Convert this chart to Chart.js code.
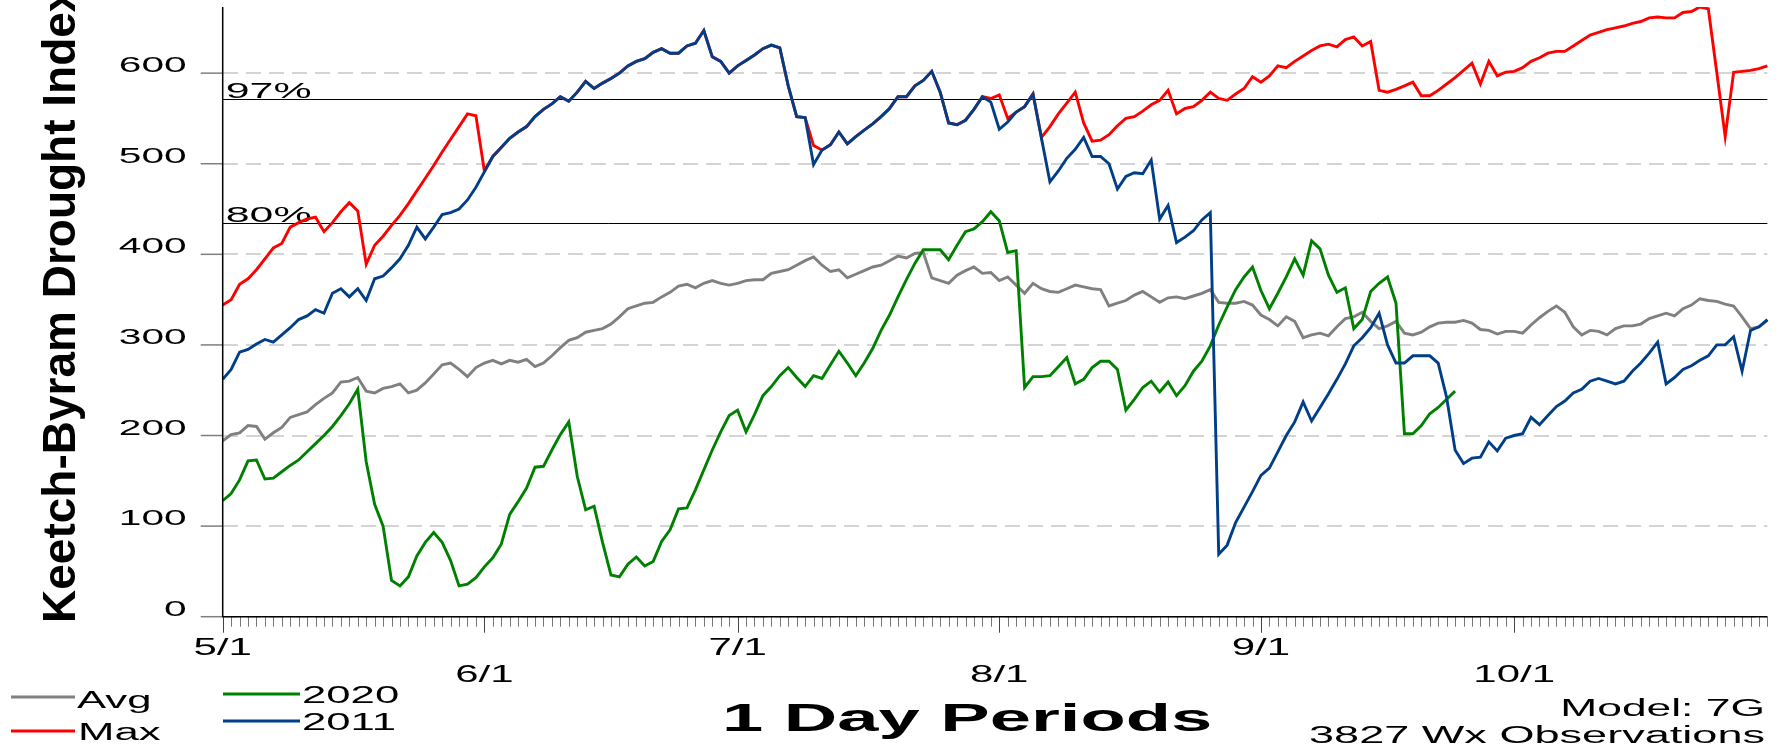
<!DOCTYPE html>
<html><head><meta charset="utf-8">
<script src="https://cdn.jsdelivr.net/npm/chart.js@4.4.1/dist/chart.umd.min.js"></script>
<style>html,body{margin:0;padding:0;background:#fff;overflow:hidden}#wrap{width:1783px;height:747px;position:relative}</style>
</head><body><div id="wrap"><canvas id="c" width="1783" height="747"></canvas></div>
<script>
// ---- data ----
const startMonth = 5, startDay = 1, dayCount = 184;
const monthTickLabels = ['5/1','6/1','7/1','8/1','9/1','10/1'];
const monthTickIndex = [0,31,61,92,123,153];
const yTickValues = [0,100,200,300,400,500,600];
const pctLabels = ['97%','80%'];
const pctValues = [571,435];
const seriesNames = ['Avg','Max','2020','2011'];

const avg = [194,201,203,211,210,196,203,209,220,223,226,234,241,247,259,260,264,249,247,252,254,257,247,250,258,268,278,280,273,265,275,280,
283,279,283,281,284,276,280,288,297,305,308,314,316,318,323,331,340,343,346,347,353,358,365,367,363,368,371,368,366,368,371,
372,372,379,381,383,388,393,397,388,381,383,374,378,382,386,388,393,398,396,401,402,
374,371,368,377,382,386,379,380,371,375,
366,357,368,362,359,358,362,366,364,362,361,343,346,349,355,359,353,347,352,353,351,354,357,361,347,346,346,348,
344,333,328,321,331,326,308,311,313,310,320,329,331,336,326,318,321,326,313,311,314,320,324,325,325,327,324,317,316,312,315,
315,313,322,330,337,343,336,320,311,316,315,311,318,321,321,323,329,332,335,332,340,344,351,349,348,345,343,331,318,320,327];

const max = [344,350,367,373,383,395,407,412,430,435,439,441,425,435,447,457,448,389,410,420,432,443,456,470,484,498,513,527,541,555,553,492,
508,518,528,535,541,552,560,566,574,569,579,591,583,589,594,600,608,613,616,623,627,622,622,630,633,647,618,613,600,608,614,620,627,631,628,586,552,551,
520,515,521,535,522,530,537,544,552,561,574,574,586,592,602,579,545,543,548,560,574,
572,576,550,557,563,577,
529,541,555,567,579,545,525,526,532,542,550,552,558,565,570,581,555,561,563,570,579,572,570,577,583,596,590,
597,608,606,613,619,625,630,632,629,637,640,630,635,581,579,582,586,590,575,575,581,588,595,603,611,588,613,597,601,
602,606,613,617,622,624,624,630,636,642,645,648,650,652,655,657,661,662,661,661,667,668,673,671,601,530,601,602,603,605,608];

const y2020 = [128,136,151,172,173,152,153,160,167,173,182,191,200,210,222,235,251,171,124,100,40,34,44,67,82,93,82,62,34,36,43,55,
65,80,113,127,142,165,166,184,201,215,155,118,122,82,46,44,58,66,56,61,83,96,119,120,140,162,184,204,222,228,204,
223,244,254,266,275,264,254,266,263,278,293,280,266,280,296,316,333,353,372,390,405,405,405,394,410,425,428,436,447,437,402,
404,253,265,265,266,276,286,257,262,275,282,282,273,228,240,253,260,248,259,244,255,271,282,299,322,342,361,375,386,360,
340,357,375,395,377,415,406,377,358,363,318,328,359,368,375,346,202,202,211,224,231,240,249];

const y2011 = [262,273,292,295,301,306,303,311,319,328,332,339,335,357,362,353,362,349,373,376,385,395,410,430,417,430,444,446,450,460,474,491,
508,518,528,535,541,552,560,566,574,569,579,591,583,589,594,600,608,613,616,623,627,622,622,630,633,647,618,613,600,608,614,620,627,631,628,586,552,551,
499,515,521,535,522,530,537,544,552,561,574,574,586,592,602,579,545,543,548,560,574,568,538,546,
557,563,577,528,480,492,506,516,529,508,508,500,472,486,490,489,504,439,454,413,419,426,438,446,69,79,104,121,138,156,
164,182,200,215,237,216,231,246,262,279,299,308,319,335,300,280,280,288,288,288,280,242,184,169,175,176,193,183,197,
200,202,220,212,222,232,238,247,251,260,263,260,257,260,271,280,291,303,257,264,273,277,283,288,300,300,309,271,316,320,328];

// categories (dates) from the start date
const labels = [];
for (let i = 0; i < dayCount; i++) {
  const d = new Date(2020, startMonth - 1, startDay + i);
  labels.push((d.getMonth() + 1) + '/' + d.getDate());
}

const colors = { Avg: '#808080', Max: '#ff0000', '2020': '#008000', '2011': '#003f87' };
const FONT = '"Liberation Sans", Arial, sans-serif';

function sText(ctx, txt, x, y, size, sx, align, bold) {
  ctx.save();
  ctx.font = (bold ? 'bold ' : '') + size + 'px ' + FONT;
  ctx.fillStyle = '#000';
  ctx.textBaseline = 'alphabetic';
  ctx.textAlign = align || 'left';
  ctx.translate(x, y);
  ctx.scale(sx, 1);
  ctx.fillText(txt, 0, 0);
  ctx.restore();
}

const decor = {
  id: 'decor',
  beforeDatasetsDraw(chart) {
    const ctx = chart.ctx, ys = chart.scales.y, a = chart.chartArea;
    ctx.save();
    ctx.strokeStyle = '#000'; ctx.lineWidth = 1;
    pctValues.forEach((v, k) => {
      const y = Math.round(ys.getPixelForValue(v)) + 0.5;
      ctx.beginPath(); ctx.moveTo(a.left, y); ctx.lineTo(a.right, y); ctx.stroke();
      sText(ctx, pctLabels[k], a.left + 3, y - 1.5, 22, 1.95, 'left');
    });
    ctx.restore();
  },
  afterDraw(chart) {
    const ctx = chart.ctx, xs = chart.scales.x, ys = chart.scales.y, a = chart.chartArea;
    ctx.save();
    // y ticks
    ctx.strokeStyle = '#7f7f7f'; ctx.lineWidth = 1.5;
    yTickValues.forEach(v => {
      const y = ys.getPixelForValue(v);
      ctx.beginPath(); ctx.moveTo(a.left - 22, y); ctx.lineTo(a.left, y); ctx.stroke();
      sText(ctx, String(v), a.left - 36, y - 1, 22, 1.85, 'right');
    });
    // x ticks
    ctx.lineWidth = 1;
    for (let i = 0; i < labels.length; i++) {
      const x = Math.round(xs.getPixelForValue(i)) + 0.5;
      const major = monthTickIndex.includes(i);
      ctx.strokeStyle = major ? '#444' : '#777';
      ctx.beginPath(); ctx.moveTo(x, a.bottom); ctx.lineTo(x, a.bottom + (major ? 16 : 10)); ctx.stroke();
    }
    monthTickLabels.forEach((t, k) => {
      const x = xs.getPixelForValue(monthTickIndex[k]);
      sText(ctx, t, x, k % 2 === 0 ? 655 : 682, 24, 1.75, 'center');
    });
    // axis lines
    ctx.strokeStyle = '#000'; ctx.lineWidth = 1.5;
    ctx.beginPath(); ctx.moveTo(a.left, a.top); ctx.lineTo(a.left, a.bottom); ctx.lineTo(a.right, a.bottom); ctx.stroke();
    // y title
    ctx.save();
    ctx.translate(75, 623); ctx.rotate(-Math.PI / 2);
    ctx.font = 'bold 46px ' + FONT; ctx.fillStyle = '#000'; ctx.textAlign = 'left';
    ctx.fillText('Keetch-Byram Drought Index', 0, 0);
    ctx.restore();
    // x title & notes
    sText(ctx, '1 Day Periods', 722, 731, 38, 1.95, 'left', true);
    sText(ctx, 'Model: 7G', 1765, 716, 23, 1.93, 'right');
    sText(ctx, '3827 Wx Observations', 1765, 743, 23, 1.96, 'right');
    // legend
    const leg = [
      { name: 'Avg', x: 11, y: 697, tx: 77, ty: 708 },
      { name: 'Max', x: 11, y: 731, tx: 78, ty: 740 },
      { name: '2020', x: 223, y: 694, tx: 302, ty: 703 },
      { name: '2011', x: 223, y: 721, tx: 302, ty: 730 }
    ];
    leg.forEach(l => {
      ctx.strokeStyle = colors[l.name]; ctx.lineWidth = 2.8;
      ctx.beginPath(); ctx.moveTo(l.x, l.y); ctx.lineTo(l.x + (l.x < 100 ? 64 : 77), l.y); ctx.stroke();
      sText(ctx, l.name, l.tx, l.ty, 23, 1.9, 'left');
    });
    ctx.restore();
  }
};

function ds(name, data, order) {
  return { label: name, data: data, borderColor: colors[name], backgroundColor: colors[name],
    borderWidth: 2.9, pointRadius: 0, tension: 0, fill: false, order: order };
}

new Chart(document.getElementById('c'), {
  type: 'line',
  data: {
    labels: labels,
    datasets: [ds('2011', y2011, 0), ds('2020', y2020, 1), ds('Max', max, 2), ds('Avg', avg, 3)]
  },
  options: {
    responsive: false, animation: false, events: [],
    layout: { padding: { left: 222.7, right: 15.6, top: 7, bottom: 130.3 } },
    plugins: { legend: { display: false }, tooltip: { enabled: false } },
    scales: {
      x: { type: 'category', grid: { display: false, drawTicks: false }, ticks: { display: false },
           border: { display: false }, afterFit: s => { s.height = 0; } },
      y: { min: 0, max: 673, ticks: { display: false },
           grid: { color: '#d4d4d4', lineWidth: 2, drawTicks: false },
           border: { display: false, dash: [15, 8] },
           afterBuildTicks: s => { s.ticks = yTickValues.map(v => ({ value: v })); },
           afterFit: s => { s.width = 0; } }
    }
  },
  plugins: [decor]
});
</script></body></html>
